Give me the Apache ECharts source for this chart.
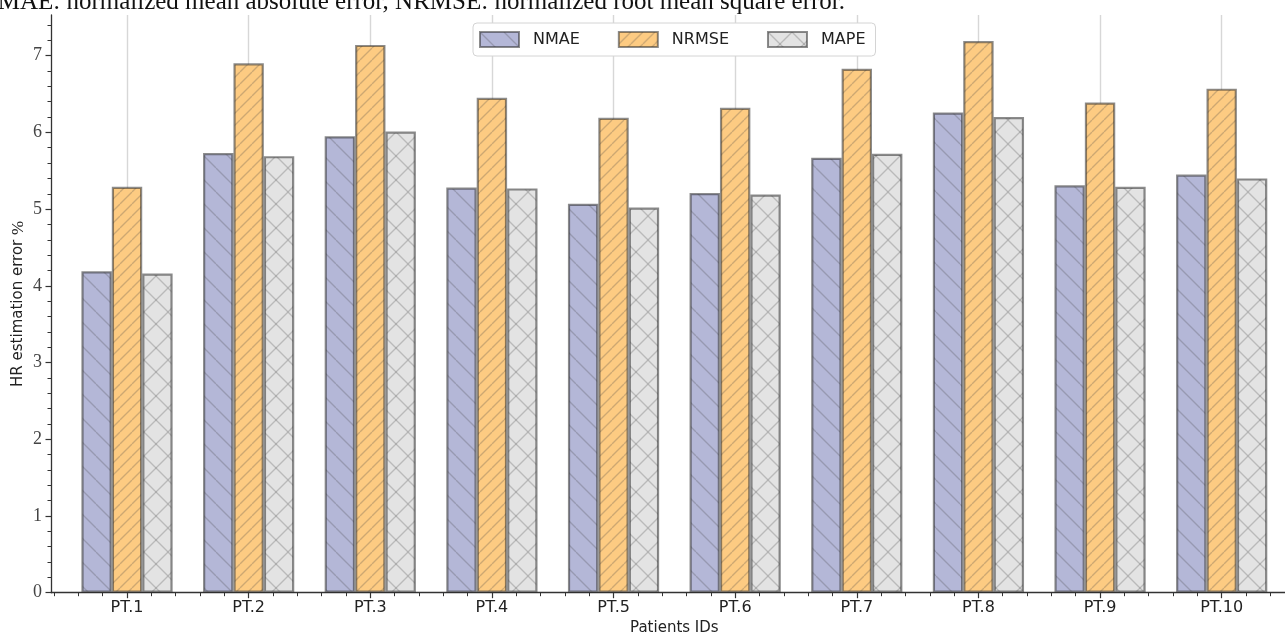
<!DOCTYPE html>
<html>
<head>
<meta charset="utf-8">
<title>HR estimation error per patient</title>
<script src="https://cdn.jsdelivr.net/npm/echarts@6/dist/echarts.min.js"></script>
<style>
  html, body { margin: 0; padding: 0; background: #fff; overflow: hidden; }
  #chart { width: 1285px; height: 635px; }
</style>
</head>
<body>
<div id="chart"></div>
<script>
// Patient labels and per-metric HR estimation errors (%)
const categories = ['PT.1', 'PT.2', 'PT.3', 'PT.4', 'PT.5', 'PT.6', 'PT.7', 'PT.8', 'PT.9', 'PT.10'];
const nmae  = [4.19, 5.73, 5.95, 5.28, 5.07, 5.21, 5.67, 6.26, 5.31, 5.45];
const nrmse = [5.29, 6.90, 7.14, 6.45, 6.19, 6.32, 6.83, 7.19, 6.39, 6.57];
const mape  = [4.16, 5.69, 6.01, 5.27, 5.02, 5.19, 5.72, 6.20, 5.29, 5.40];
const yTickValues = [0, 1, 2, 3, 4, 5, 6, 7];

// Axis extents (x in category-index units)
const X_MIN = -0.625, X_MAX = 9.625;
const Y_MIN = 0, Y_MAX = 7.53;

// Minor tick positions every 0.2 units, skipping the major ones
function minorValues(lo, hi) {
  const out = [];
  for (let k = Math.ceil(lo * 5); k <= Math.floor(hi * 5); k++) {
    if (k % 5 !== 0) out.push(k / 5);
  }
  return out;
}
const xMajor = categories.map((_, i) => i);
const xMinor = minorValues(X_MIN, X_MAX);
const yMinor = minorValues(Y_MIN, Y_MAX);

// Hatched fill tiles: '\' lines, '/' lines, or both for a cross hatch
function hatchTile(bg, period, dirs, lineColor, lineWidth) {
  const c = document.createElement('canvas');
  c.width = period; c.height = period;
  const ctx = c.getContext('2d');
  ctx.fillStyle = bg;
  ctx.fillRect(0, 0, period, period);
  ctx.strokeStyle = lineColor;
  ctx.lineWidth = lineWidth;
  dirs.forEach(d => {
    for (let k = -1; k <= 1; k++) {
      ctx.beginPath();
      if (d === '/') {
        ctx.moveTo(k * period, period);
        ctx.lineTo(k * period + period, 0);
      } else {
        ctx.moveTo(k * period, 0);
        ctx.lineTo(k * period + period, period);
      }
      ctx.stroke();
    }
  });
  return { image: c, repeat: 'repeat' };
}

const hatchLine = 'rgba(70,70,70,0.26)';
const fillNMAE  = hatchTile('#b4b7d7', 24, ['\\'], hatchLine, 1.3);
const fillNRMSE = hatchTile('#fdcb82', 12, ['/'], hatchLine, 1.3);
const fillMAPE  = hatchTile('#e3e3e3', 24, ['/', '\\'], hatchLine, 1.3);

const edge = { borderColor: 'rgba(45,45,45,0.55)', borderWidth: 2.2 };

function toPoints(values) {
  return values.map((v, i) => [i, v]);
}

const axisColor = '#333';
const sans = 'DejaVu Sans';
const serif = 'Liberation Serif';

const chart = echarts.init(document.getElementById('chart'), null, { renderer: 'canvas' });

const option = {
  animation: false,
  backgroundColor: '#fff',
  grid: {
    left: 51, right: -12.7, top: 15, bottom: 42.3,
    containLabel: false,
    outerBoundsMode: 'none'
  },
  graphic: [{
    type: 'text',
    right: 1285 - 845,
    top: -10,
    style: {
      text: 'NMAE: normalized mean absolute error, NRMSE: normalized root mean square error.',
      font: '25px "Liberation Serif"',
      fill: '#111'
    }
  }],
  legend: {
    left: 473,
    top: 23,
    icon: 'rect',
    itemWidth: 39,
    itemHeight: 15,
    itemGap: 38,
    padding: [8, 10, 8, 6],
    backgroundColor: '#fff',
    borderColor: '#d4d4d4',
    borderWidth: 1,
    borderRadius: 4,
    textStyle: { fontFamily: sans, fontSize: 16, color: '#222', padding: [0, 0, 0, 9] },
    data: ['NMAE', 'NRMSE', 'MAPE']
  },
  xAxis: [{
    type: 'value',
    position: 'bottom',
    min: X_MIN,
    max: X_MAX,
    name: 'Patients IDs',
    nameLocation: 'middle',
    nameGap: 26,
    nameTextStyle: { fontFamily: sans, fontSize: 15, color: '#222' },
    axisLine: { show: true, onZero: false, lineStyle: { color: axisColor, width: 1.3 } },
    axisTick: { show: true, customValues: xMajor, length: 5.5, lineStyle: { color: axisColor, width: 1.2 } },
    axisLabel: {
      customValues: xMajor,
      margin: 7,
      fontFamily: sans,
      fontSize: 16,
      color: '#222',
      formatter: v => categories[Math.round(v)] || ''
    },
    splitLine: { show: true, lineStyle: { color: '#d7d7d7', width: 1.4 } }
  }, {
    type: 'value',
    position: 'bottom',
    min: X_MIN,
    max: X_MAX,
    axisLine: { show: false, onZero: false },
    axisTick: { show: true, customValues: xMinor, length: 3.5, lineStyle: { color: axisColor, width: 1 } },
    axisLabel: { show: false },
    splitLine: { show: false }
  }],
  yAxis: [{
    type: 'value',
    position: 'left',
    min: Y_MIN,
    max: Y_MAX,
    name: '{s|HR estimation error }{p|%}',
    nameLocation: 'middle',
    nameGap: 24,
    nameMoveOverlap: false,
    nameTextStyle: {
      color: '#222',
      rich: {
        s: { fontFamily: sans, fontSize: 15, color: '#222' },
        p: { fontFamily: serif, fontSize: 17, color: '#222' }
      }
    },
    axisLine: { show: true, onZero: false, lineStyle: { color: axisColor, width: 1.3 } },
    axisTick: { show: true, customValues: yTickValues, length: 5.5, lineStyle: { color: axisColor, width: 1.2 } },
    axisLabel: {
      customValues: yTickValues,
      margin: 9,
      fontFamily: serif,
      fontSize: 18,
      color: '#444'
    },
    splitLine: { show: false }
  }, {
    type: 'value',
    position: 'left',
    min: Y_MIN,
    max: Y_MAX,
    axisLine: { show: false, onZero: false },
    axisTick: { show: true, customValues: yMinor, length: 3.5, lineStyle: { color: axisColor, width: 1 } },
    axisLabel: { show: false },
    splitLine: { show: false }
  }],
  series: [
    { name: 'NMAE',  type: 'bar', xAxisIndex: 0, yAxisIndex: 0, barWidth: '25%', barGap: '0%',
      itemStyle: Object.assign({ color: fillNMAE }, edge), data: toPoints(nmae) },
    { name: 'NRMSE', type: 'bar', xAxisIndex: 0, yAxisIndex: 0, barWidth: '25%', barGap: '0%',
      itemStyle: Object.assign({ color: fillNRMSE }, edge), data: toPoints(nrmse) },
    { name: 'MAPE',  type: 'bar', xAxisIndex: 0, yAxisIndex: 0, barWidth: '25%', barGap: '0%',
      itemStyle: Object.assign({ color: fillMAPE }, edge), data: toPoints(mape) }
  ]
};

chart.setOption(option);
</script>
</body>
</html>
